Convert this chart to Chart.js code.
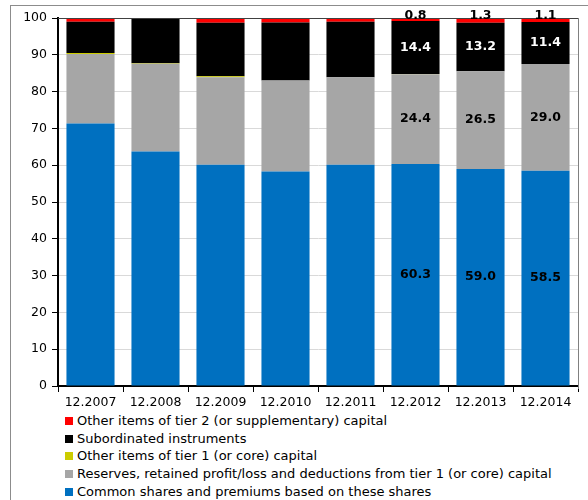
<!DOCTYPE html>
<html>
<head>
<meta charset="utf-8">
<script src="https://cdn.jsdelivr.net/npm/chart.js@4"></script>
<style>
  body { margin: 0; background: #fff; font-family: "DejaVu Sans", Verdana, sans-serif; }
  #wrap { position: relative; width: 588px; height: 500px; overflow: hidden; }
  #frame { position: absolute; left: 10px; top: 5px; width: 700px; height: 700px; border: 1px solid #8c8c8c; pointer-events: none; }
  #chart { position: absolute; left: 0; top: 0; }
  #legend { position: absolute; left: 65px; top: 412px; font-size: 13px; color: #000; }
  .item { height: 17.7px; line-height: 17.7px; white-space: nowrap; }
  .box { display: inline-block; width: 8px; height: 8px; margin-right: 4px; }
</style>
</head>
<body>
<div id="wrap">
  <div id="frame"></div>
  <canvas id="chart" width="588" height="412"></canvas>
  <div id="legend"></div>
</div>
<script>
// data (percent of capital)
const categories = ['12.2007', '12.2008', '12.2009', '12.2010', '12.2011', '12.2012', '12.2013', '12.2014'];
const commonShares = [71.3, 63.7, 60.1, 58.3, 60.1, 60.3, 59.0, 58.5];
const reserves = [18.9, 23.9, 23.8, 24.7, 23.8, 24.4, 26.5, 29.0];
const otherTier1 = [0.3, 0.1, 0.3, 0, 0, 0.1, 0, 0];
const subordinated = [8.5, 12.3, 14.5, 15.8, 15.1, 14.4, 13.2, 11.4];
const otherTier2 = [1.0, 0, 1.3, 1.2, 1.0, 0.8, 1.3, 1.1];
const yTicks = [0, 10, 20, 30, 40, 50, 60, 70, 80, 90, 100];
// only the last three years carry value labels
const labelledCategories = ['12.2012', '12.2013', '12.2014'];

const FONT = '"DejaVu Sans", Verdana, sans-serif';

const datasets = [
  { label: 'Common shares and premiums based on these shares', data: commonShares, backgroundColor: '#0070c0', showValues: true, labelColor: '#000' },
  { label: 'Reserves, retained profit/loss and deductions from tier 1 (or core) capital', data: reserves, backgroundColor: '#a6a6a6', showValues: true, labelColor: '#000' },
  { label: 'Other items of tier 1 (or core) capital', data: otherTier1, backgroundColor: '#cccc00' },
  { label: 'Subordinated instruments', data: subordinated, backgroundColor: '#000000', showValues: true, labelColor: '#fff' },
  { label: 'Other items of tier 2 (or supplementary) capital', data: otherTier2, backgroundColor: '#ff0000', showValues: true, labelColor: '#000', labelOnTop: true }
];

// plot frame + value labels
const valueLabels = {
  id: 'valueLabels',
  afterDatasetsDraw(chart) {
    const ctx = chart.ctx;
    const a = chart.chartArea;
    ctx.save();
    ctx.lineWidth = 1;
    ctx.strokeStyle = '#404040';
    ctx.beginPath();
    ctx.moveTo(a.left, a.top + 0.5);
    ctx.lineTo(a.right, a.top + 0.5);
    ctx.stroke();
    ctx.strokeStyle = '#808080';
    ctx.beginPath();
    ctx.moveTo(a.right + 0.5, a.top);
    ctx.lineTo(a.right + 0.5, a.bottom + 3);
    ctx.stroke();

    ctx.font = 'bold 12.5px ' + FONT;
    ctx.textAlign = 'center';
    ctx.textBaseline = 'middle';
    chart.data.datasets.forEach((ds, i) => {
      if (!ds.showValues) return;
      chart.getDatasetMeta(i).data.forEach((bar, j) => {
        if (!labelledCategories.includes(categories[j])) return;
        const y = ds.labelOnTop ? bar.y - 2 : (bar.y + bar.base) / 2;
        ctx.fillStyle = ds.labelColor;
        ctx.fillText(ds.data[j].toFixed(1), bar.x, y);
      });
    });
    ctx.restore();
  }
};

new Chart(document.getElementById('chart'), {
  type: 'bar',
  data: { labels: categories, datasets: datasets },
  options: {
    responsive: false,
    animation: false,
    layout: { padding: { top: 18, right: 10, left: 0, bottom: 0 } },
    datasets: { bar: { categoryPercentage: 1, barPercentage: 0.74 } },
    plugins: { legend: { display: false }, tooltip: { enabled: false } },
    scales: {
      x: {
        stacked: true,
        afterFit(scale) { scale.height = 26; },
        grid: { offset: true, drawOnChartArea: false, drawTicks: true, tickLength: 6, tickColor: '#000' },
        border: { color: '#000', width: 2 },
        ticks: { color: '#000', font: { family: FONT, size: 12.5 }, padding: 3, maxRotation: 0 }
      },
      y: {
        stacked: true,
        min: 0,
        max: 100,
        afterFit(scale) { scale.width = 58; },
        afterBuildTicks(scale) { scale.ticks = yTicks.map(v => ({ value: v })); },
        grid: { color: '#d9d9d9', tickColor: '#000', tickLength: 6 },
        border: { color: '#000', width: 2 },
        ticks: { color: '#000', font: { family: FONT, size: 12.5 }, padding: 5 }
      }
    }
  },
  plugins: [valueLabels]
});

// legend as html, top entry first
const legend = document.getElementById('legend');
datasets.slice().reverse().forEach(ds => {
  const row = document.createElement('div');
  row.className = 'item';
  const box = document.createElement('span');
  box.className = 'box';
  box.style.background = ds.backgroundColor;
  row.appendChild(box);
  row.appendChild(document.createTextNode(ds.label));
  legend.appendChild(row);
});
</script>
</body>
</html>
